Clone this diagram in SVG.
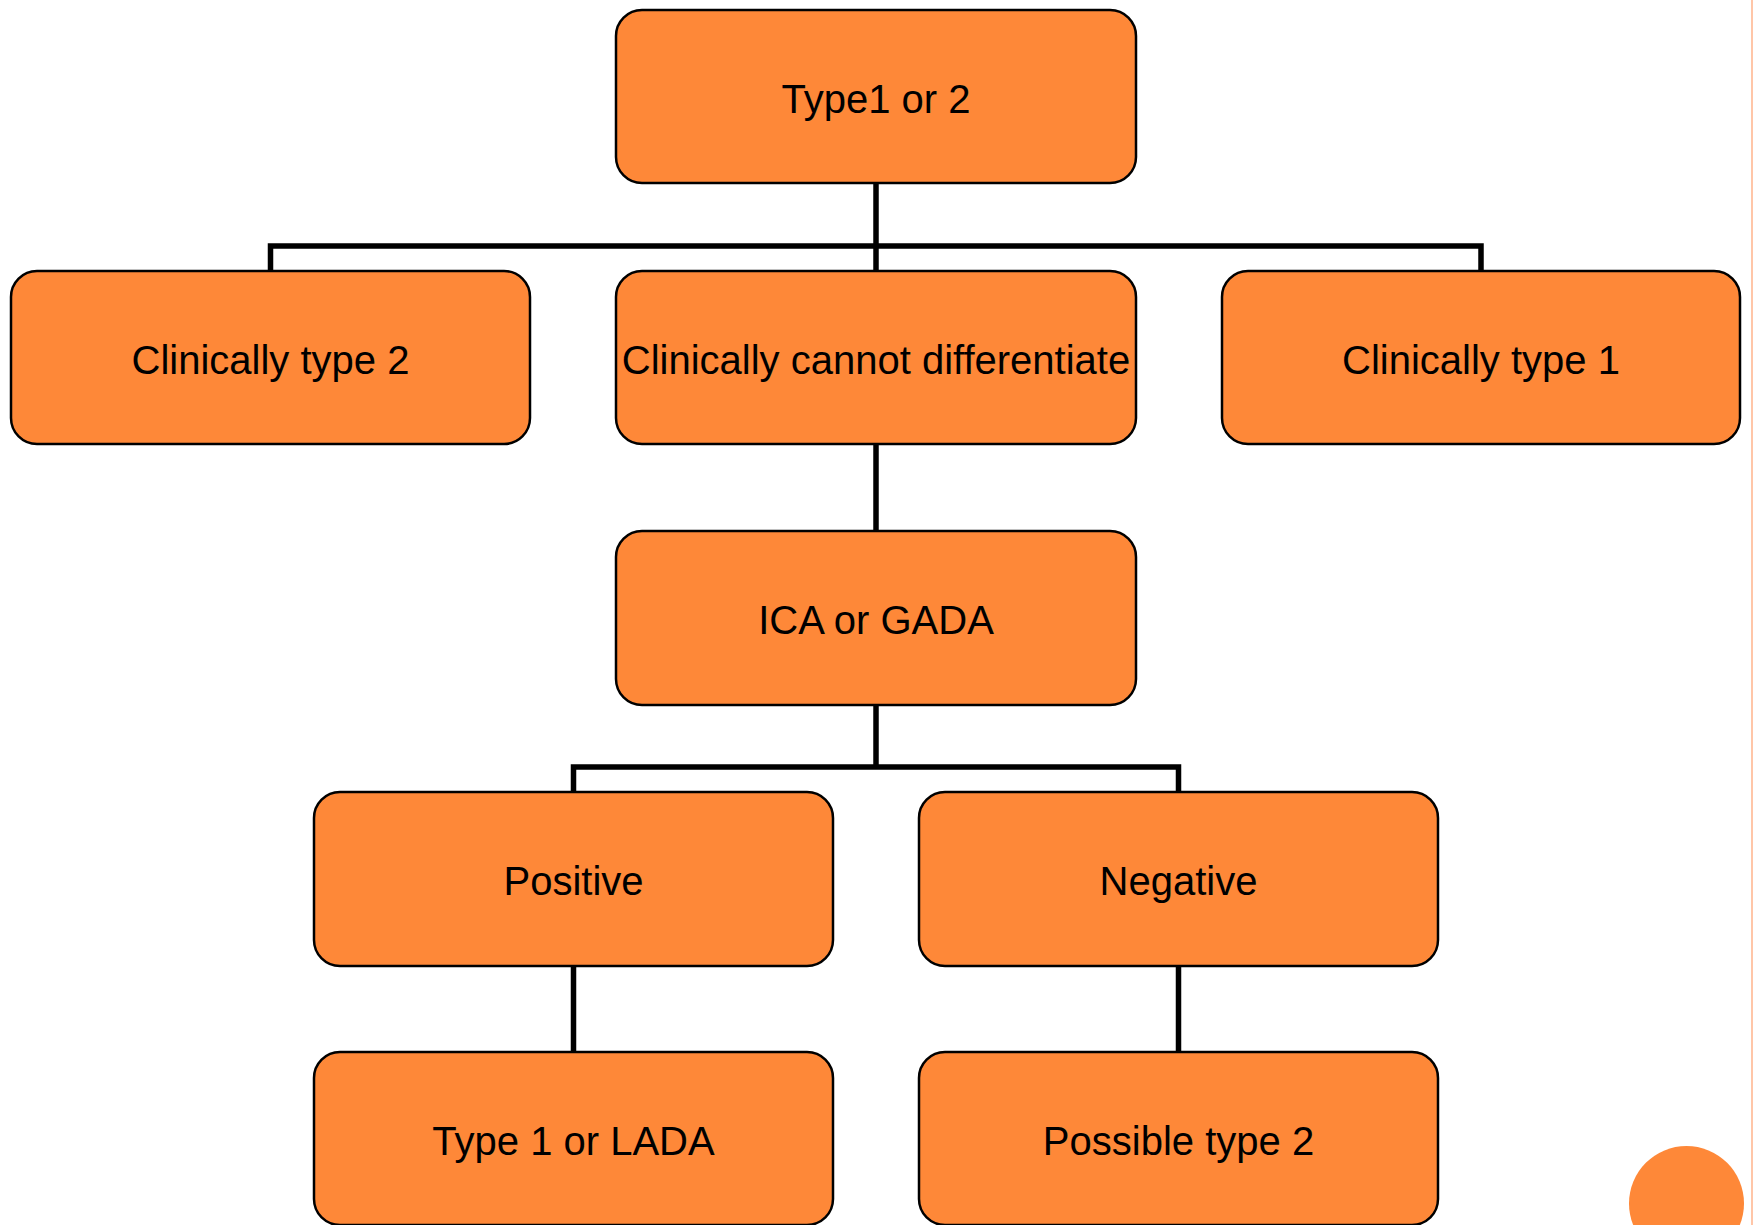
<svg xmlns="http://www.w3.org/2000/svg" width="1753" height="1225" viewBox="0 0 1753 1225">
<style>
.box{fill:#FE8838;stroke:#000;stroke-width:2.5}
.lbl{font-family:"Liberation Sans",Arial,sans-serif;font-size:40px;fill:#000;text-anchor:middle}
.con{fill:none;stroke:#000;stroke-width:5.5;stroke-linejoin:miter}
</style>
<rect width="1753" height="1225" fill="#fff"/>
<rect x="1751" y="0" width="2" height="1225" fill="#FFC6A8"/>
<circle cx="1686.5" cy="1203.5" r="57.5" fill="#FE8838"/>
<g id="connectors">
<path class="con" d="M876 183 V271"/>
<path class="con" d="M270.5 271 V246 H1481 V271"/>
<path class="con" d="M876 444 V531"/>
<path class="con" d="M876 705 V767"/>
<path class="con" d="M573.5 792 V767 H1178.5 V792"/>
<path class="con" d="M573.5 966 V1052"/>
<path class="con" d="M1178.5 966 V1052"/>
</g>
<g id="n-top"><rect class="box" x="616" y="10" width="520" height="173" rx="26"/><text class="lbl" x="876" y="112.5">Type1 or 2</text></g>
<g id="n-ct2"><rect class="box" x="11" y="271" width="519" height="173" rx="26"/><text class="lbl" x="270.5" y="373.5">Clinically type 2</text></g>
<g id="n-ccd"><rect class="box" x="616" y="271" width="520" height="173" rx="26"/><text class="lbl" x="876" y="373.5">Clinically cannot differentiate</text></g>
<g id="n-ct1"><rect class="box" x="1222" y="271" width="518" height="173" rx="26"/><text class="lbl" x="1481" y="373.5">Clinically type 1</text></g>
<g id="n-ica"><rect class="box" x="616" y="531" width="520" height="174" rx="26"/><text class="lbl" x="876" y="633.5">ICA or GADA</text></g>
<g id="n-pos"><rect class="box" x="314" y="792" width="519" height="174" rx="26"/><text class="lbl" x="573.5" y="894.5">Positive</text></g>
<g id="n-neg"><rect class="box" x="919" y="792" width="519" height="174" rx="26"/><text class="lbl" x="1178.5" y="894.5">Negative</text></g>
<g id="n-t1l"><rect class="box" x="314" y="1052" width="519" height="173" rx="26"/><text class="lbl" x="573.5" y="1154.5">Type 1 or LADA</text></g>
<g id="n-pt2"><rect class="box" x="919" y="1052" width="519" height="173" rx="26"/><text class="lbl" x="1178.5" y="1154.5">Possible type 2</text></g>
</svg>
